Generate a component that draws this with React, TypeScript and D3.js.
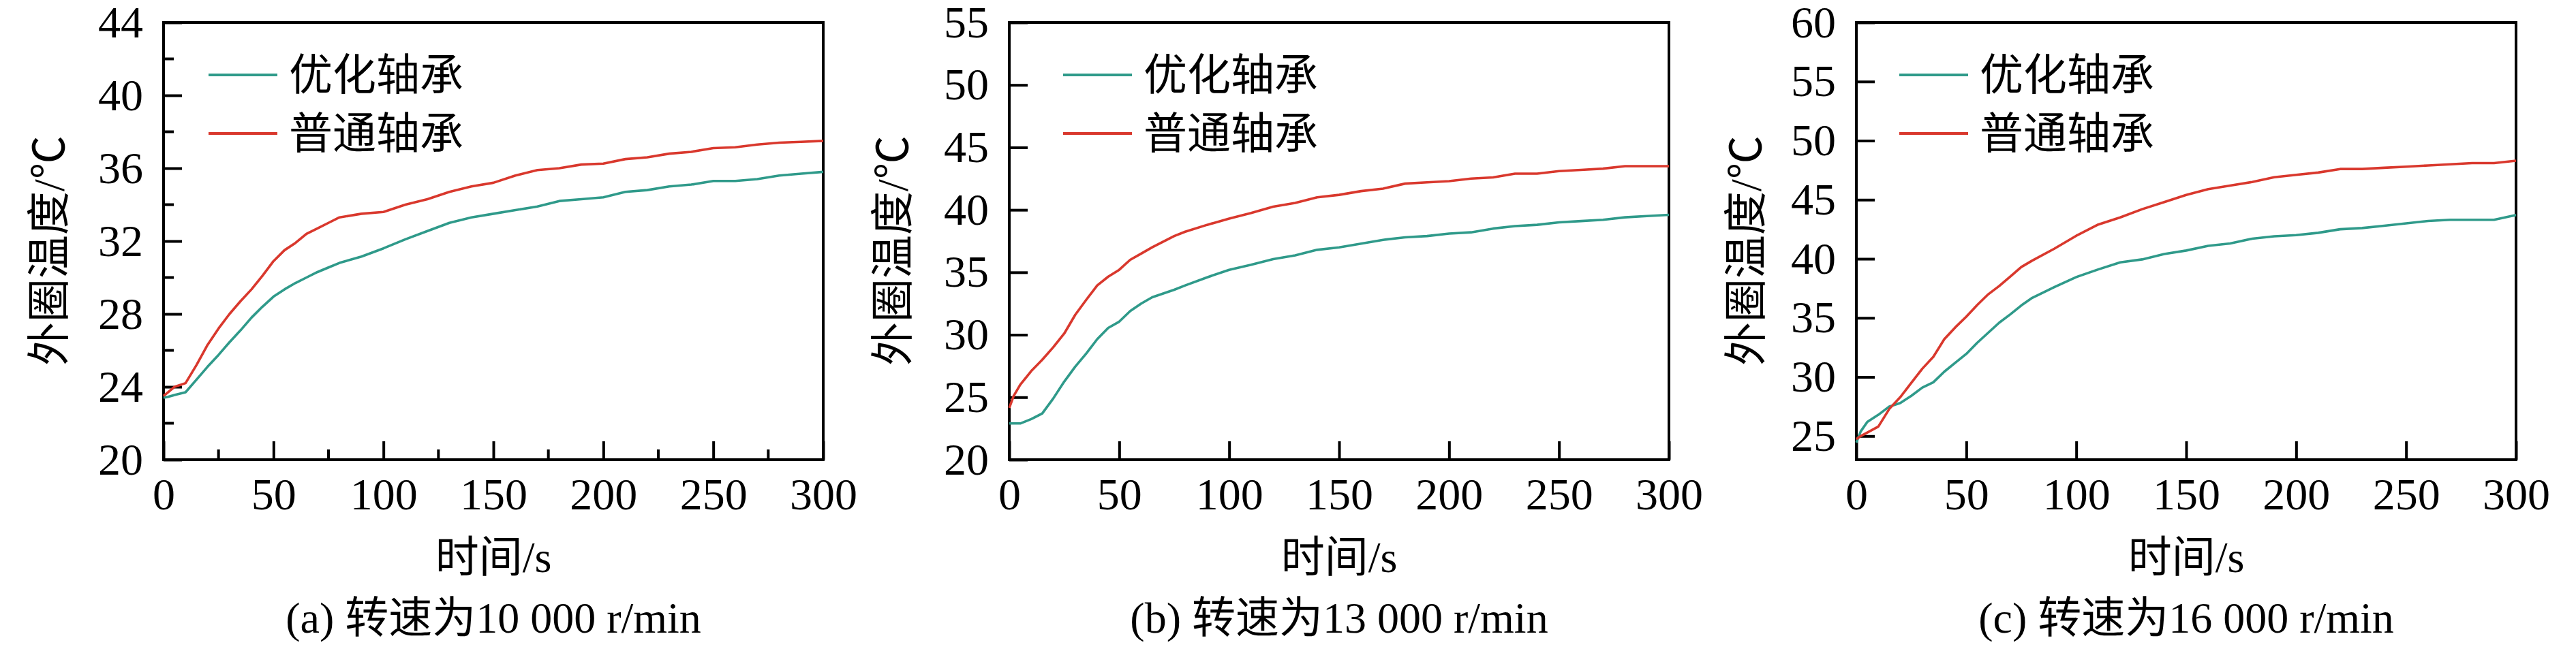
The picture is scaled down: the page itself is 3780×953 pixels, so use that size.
import React, { useEffect, useRef } from 'react';
import * as d3 from 'd3';

// 时间/s
const timeSec = [
  0, 2, 5, 10, 15, 20, 25, 30, 35, 40, 45, 50, 55, 60, 65, 70, 75, 80,
  90, 100, 110, 120, 130, 140, 150, 160, 170, 180, 190, 200,
  210, 220, 230, 240, 250, 260, 270, 280, 290, 300,
];

// (a) 10 000 r/min
const optimizedA = [
  23.4, 23.45, 23.55, 23.7, 24.4, 25.1, 25.75, 26.45, 27.1, 27.8, 28.4, 28.95, 29.35, 29.7, 30.0, 30.3, 30.55, 30.8,
  31.15, 31.6, 32.1, 32.55, 33.0, 33.3, 33.5, 33.7, 33.9, 34.2, 34.3, 34.4,
  34.7, 34.8, 35.0, 35.1, 35.3, 35.3, 35.4, 35.6, 35.7, 35.8,
];
const ordinaryA = [
  23.5, 23.7, 24.0, 24.2, 25.2, 26.3, 27.2, 28.0, 28.7, 29.35, 30.1, 30.9, 31.5, 31.9, 32.4, 32.7, 33.0, 33.3,
  33.5, 33.6, 34.0, 34.3, 34.7, 35.0, 35.2, 35.6, 35.9, 36.0, 36.2, 36.25,
  36.5, 36.6, 36.8, 36.9, 37.1, 37.15, 37.3, 37.4, 37.45, 37.5,
];

// (b) 13 000 r/min
const optimizedB = [
  22.9, 22.9, 22.9, 23.25, 23.7, 24.9, 26.25, 27.45, 28.5, 29.65, 30.55, 31.05, 31.9, 32.5, 33.0, 33.3, 33.6, 33.95,
  34.6, 35.2, 35.6, 36.05, 36.35, 36.8, 37.0, 37.3, 37.6, 37.8, 37.9, 38.1,
  38.2, 38.5, 38.7, 38.8, 39.0, 39.1, 39.2, 39.4, 39.5, 39.6,
];
const ordinaryB = [
  24.15, 25.1, 26.0, 27.1, 28.0, 29.0, 30.1, 31.6, 32.8, 33.95, 34.65, 35.2, 36.0, 36.5, 37.0, 37.45, 37.9, 38.25,
  38.8, 39.3, 39.75, 40.25, 40.55, 41.0, 41.2, 41.5, 41.7, 42.1, 42.2, 42.3,
  42.5, 42.6, 42.9, 42.9, 43.1, 43.2, 43.3, 43.5, 43.5, 43.5,
];

// (c) 16 000 r/min
const optimizedC = [
  24.45, 25.4, 26.2, 26.8, 27.5, 27.8, 28.4, 29.1, 29.55, 30.45, 31.2, 31.95, 32.9, 33.75, 34.6, 35.3, 36.05, 36.7,
  37.6, 38.45, 39.1, 39.7, 39.95, 40.4, 40.7, 41.1, 41.3, 41.7, 41.9, 42.0,
  42.2, 42.5, 42.6, 42.8, 43.0, 43.2, 43.3, 43.3, 43.3, 43.7,
];
const ordinaryC = [
  24.75, 25.0, 25.3, 25.8, 27.3, 28.3, 29.5, 30.7, 31.7, 33.2, 34.2, 35.1, 36.1, 37.0, 37.7, 38.5, 39.3, 39.85,
  40.85, 41.95, 42.9, 43.5, 44.2, 44.8, 45.4, 45.9, 46.2, 46.5, 46.9, 47.1,
  47.3, 47.6, 47.6, 47.7, 47.8, 47.9, 48.0, 48.1, 48.1, 48.3,
];

const seriesNames = ['优化轴承', '普通轴承'];
const captions = ['(a) 转速为10 000 r/min', '(b) 转速为13 000 r/min', '(c) 转速为16 000 r/min'];
const xTicks = [0, 50, 100, 150, 200, 250, 300];
const xMinorA = [25, 75, 125, 175, 225, 275];
const yTicksA = [20, 24, 28, 32, 36, 40, 44];
const yMinorA = [22, 26, 30, 34, 38, 42];
const yTicksB = [20, 25, 30, 35, 40, 45, 50, 55];
const yTicksC = [25, 30, 35, 40, 45, 50, 55, 60];
const yRangeA = [20, 44];
const yRangeB = [20, 55];
const yRangeC = [23, 60];

const COLORS = ['#2f9a8a', '#d9382d'];
const SERIF = "'Liberation Serif', 'Times New Roman', 'Noto Sans CJK SC', serif";

const panels = [
  { opt: optimizedA, ord: ordinaryA, yTicks: yTicksA, yRange: yRangeA, xMinor: xMinorA, yMinor: yMinorA, left: 240, legendX: 66, labelX: -170 },
  { opt: optimizedB, ord: ordinaryB, yTicks: yTicksB, yRange: yRangeB, xMinor: [], yMinor: [], left: 1481, legendX: 79, labelX: -173 },
  { opt: optimizedC, ord: ordinaryC, yTicks: yTicksC, yRange: yRangeC, xMinor: [], yMinor: [], left: 2724, legendX: 63, labelX: -164 },
];

const W = 3780;
const H = 953;
const TOP = 33;
const BOTTOM = 675;
const PW = 968;

export default function App() {
  const svgRef = useRef<SVGSVGElement>(null);

  useEffect(() => {
    if (!svgRef.current) return;
    const svg = d3.select(svgRef.current);
    svg.selectAll('*').remove();

    panels.forEach((p, i) => {
      const g = svg.append('g').attr('transform', `translate(${p.left},0)`);

      const x = d3.scaleLinear().domain([0, 300]).range([0, PW]);
      const y = d3.scaleLinear().domain(p.yRange).range([BOTTOM, TOP]);

      // minor ticks
      g.selectAll('.xminor')
        .data(p.xMinor)
        .enter()
        .append('line')
        .attr('x1', d => x(d)).attr('x2', d => x(d))
        .attr('y1', BOTTOM).attr('y2', BOTTOM - 15)
        .attr('stroke', '#000').attr('stroke-width', 4);
      g.selectAll('.yminor')
        .data(p.yMinor)
        .enter()
        .append('line')
        .attr('x1', 0).attr('x2', 15)
        .attr('y1', d => y(d)).attr('y2', d => y(d))
        .attr('stroke', '#000').attr('stroke-width', 4);

      // axes
      const xAxis = d3.axisBottom(x).tickValues(xTicks).tickSizeInner(-27).tickSizeOuter(0).tickPadding(26);
      g.append('g')
        .attr('transform', `translate(0,${BOTTOM})`)
        .call(xAxis)
        .call(a => a.select('.domain').remove())
        .call(a => a.selectAll('line').attr('stroke-width', 4))
        .call(a => a.selectAll('text').attr('font-size', 66).attr('font-family', SERIF).attr('fill', '#000'));

      const yAxis = d3.axisLeft(y).tickValues(p.yTicks).tickSizeInner(-27).tickSizeOuter(0).tickPadding(30);
      g.append('g')
        .call(yAxis)
        .call(a => a.select('.domain').remove())
        .call(a => a.selectAll('line').attr('stroke-width', 4))
        .call(a => a.selectAll('text').attr('font-size', 66).attr('font-family', SERIF).attr('fill', '#000'));

      // frame
      g.append('rect')
        .attr('x', 0).attr('y', TOP)
        .attr('width', PW).attr('height', BOTTOM - TOP)
        .attr('fill', 'none').attr('stroke', '#000').attr('stroke-width', 4);

      // curves
      const line = d3.line<number>()
        .x((_, k) => x(timeSec[k]))
        .y(d => y(d));

      [p.opt, p.ord].forEach((vals, k) => {
        g.append('path')
          .datum(vals)
          .attr('d', line)
          .attr('fill', 'none')
          .attr('stroke', COLORS[k])
          .attr('stroke-width', 3.6)
          .attr('stroke-linejoin', 'round');
      });

      // legend
      const legendY = [110, 196];
      const textY = [132, 218];
      seriesNames.forEach((name, k) => {
        g.append('line')
          .attr('x1', p.legendX).attr('x2', p.legendX + 101)
          .attr('y1', legendY[k]).attr('y2', legendY[k])
          .attr('stroke', COLORS[k]).attr('stroke-width', 4);
        g.append('text')
          .attr('x', p.legendX + 118)
          .attr('y', textY[k])
          .attr('font-size', 64)
          .attr('font-family', SERIF)
          .attr('fill', '#000')
          .text(name);
      });

      // axis titles
      g.append('text')
        .attr('transform', `translate(${p.labelX + 24},${368}) rotate(-90)`)
        .attr('text-anchor', 'middle')
        .attr('font-size', 64)
        .attr('font-family', SERIF)
        .attr('fill', '#000')
        .text('外圈温度/℃');

      g.append('text')
        .attr('x', PW / 2)
        .attr('y', 840)
        .attr('text-anchor', 'middle')
        .attr('font-size', 64)
        .attr('font-family', SERIF)
        .attr('fill', '#000')
        .text('时间/s');

      g.append('text')
        .attr('x', PW / 2)
        .attr('y', 929)
        .attr('text-anchor', 'middle')
        .attr('font-size', 64)
        .attr('font-family', SERIF)
        .attr('fill', '#000')
        .text(captions[i]);
    });
  }, []);

  return (
    <div style={{ position: 'absolute', left: 0, top: 0 }}>
      <svg ref={svgRef} width={W} height={H} style={{ display: 'block', background: '#fff' }} />
    </div>
  );
}
